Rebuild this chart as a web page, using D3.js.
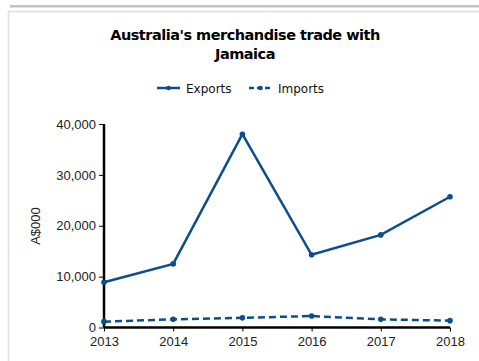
<!DOCTYPE html>
<html>
<head>
<meta charset="utf-8">
<script src="https://cdn.jsdelivr.net/npm/d3@7"></script>
<style>
  html, body { margin: 0; padding: 0; background: #fff; }
  svg { display: block; }
</style>
</head>
<body>
<svg id="chart" width="479" height="361"></svg>
<script>
// Australia's merchandise trade with Jamaica, A$000
const years = ["2013", "2014", "2015", "2016", "2017", "2018"];
const exportsValues = [8900, 12500, 38000, 14300, 18200, 25700];
const importsValues = [1150, 1600, 1900, 2250, 1600, 1350];
const yTicks = [0, 10000, 20000, 30000, 40000];
const seriesNames = ["Exports", "Imports"];

const series = [
  { name: seriesNames[0], values: exportsValues, dash: null },
  { name: seriesNames[1], values: importsValues, dash: "7,4" }
];

const color = "#0c4d8b";
const svg = d3.select("#chart");

// page frame
svg.append("rect").attr("x", 10).attr("y", 5).attr("width", 469).attr("height", 2.5).attr("fill", "#c4c4c4");
svg.append("path").attr("d", "M8.5,361V11.5H479").attr("fill", "none").attr("stroke", "#dedede").attr("stroke-width", 1.5);

// title
const title = svg.append("text")
  .attr("x", 245).attr("text-anchor", "middle")
  .attr("font-family", "DejaVu Sans, Verdana, sans-serif")
  .attr("font-weight", "bold").attr("font-size", 14.5)
  .attr("letter-spacing", -0.5).attr("fill", "#000");
title.append("tspan").attr("x", 245).attr("y", 40).text("Australia's merchandise trade with");
title.append("tspan").attr("x", 245).attr("y", 59).text("Jamaica");

const x = d3.scalePoint().domain(years).range([104, 450]);
const y = d3.scaleLinear().domain([0, 40000]).range([327.5, 124]);

// axes
const yAxis = svg.append("g").attr("transform", "translate(104,0)")
  .call(d3.axisLeft(y).tickValues(yTicks).tickSize(5).tickPadding(3).tickFormat(d3.format(",")));
const xAxis = svg.append("g").attr("transform", "translate(0,327.5)")
  .call(d3.axisBottom(x).tickSize(4).tickPadding(5));

[yAxis, xAxis].forEach(g => {
  g.select(".domain").attr("stroke", "#000").attr("stroke-width", 2.5);
  g.selectAll(".tick line").attr("stroke", "#000").attr("stroke-width", 1);
  g.selectAll(".tick text").attr("font-family", "Liberation Sans, Arial, sans-serif")
    .attr("font-size", 13).attr("fill", "#222");
});
yAxis.select(".domain").attr("d", "M0,124V327.5");
xAxis.select(".domain").attr("d", "M104,0H450");

// y axis title
svg.append("text")
  .attr("transform", "translate(40,226) rotate(-90)")
  .attr("text-anchor", "middle")
  .attr("font-family", "Liberation Sans, Arial, sans-serif")
  .attr("font-size", 13).attr("fill", "#222")
  .text("A$000");

// lines and markers
const line = d3.line().x((d, i) => x(years[i])).y(d => y(d));
series.forEach(s => {
  svg.append("path").datum(s.values)
    .attr("d", line).attr("fill", "none")
    .attr("stroke", color).attr("stroke-width", 2.5)
    .attr("stroke-dasharray", s.dash);
  svg.append("g").selectAll("circle").data(s.values).join("circle")
    .attr("cx", (d, i) => x(years[i])).attr("cy", d => y(d))
    .attr("r", 2.8).attr("fill", color);
});

// legend
const legendPos = [157, 249];
series.forEach((s, i) => {
  const g = svg.append("g").attr("transform", `translate(${legendPos[i]},88)`);
  g.append("line").attr("x1", 0).attr("x2", 23).attr("y1", 0).attr("y2", 0)
    .attr("stroke", color).attr("stroke-width", 2.5)
    .attr("stroke-dasharray", s.dash ? "5,3" : null);
  g.append("circle").attr("cx", 11.5).attr("cy", 0).attr("r", 2.3).attr("fill", color);
  g.append("text").attr("x", 29).attr("y", 4.5)
    .attr("font-family", "DejaVu Sans, Verdana, sans-serif")
    .attr("font-size", 12).attr("fill", "#111")
    .text(s.name);
});
</script>
</body>
</html>
